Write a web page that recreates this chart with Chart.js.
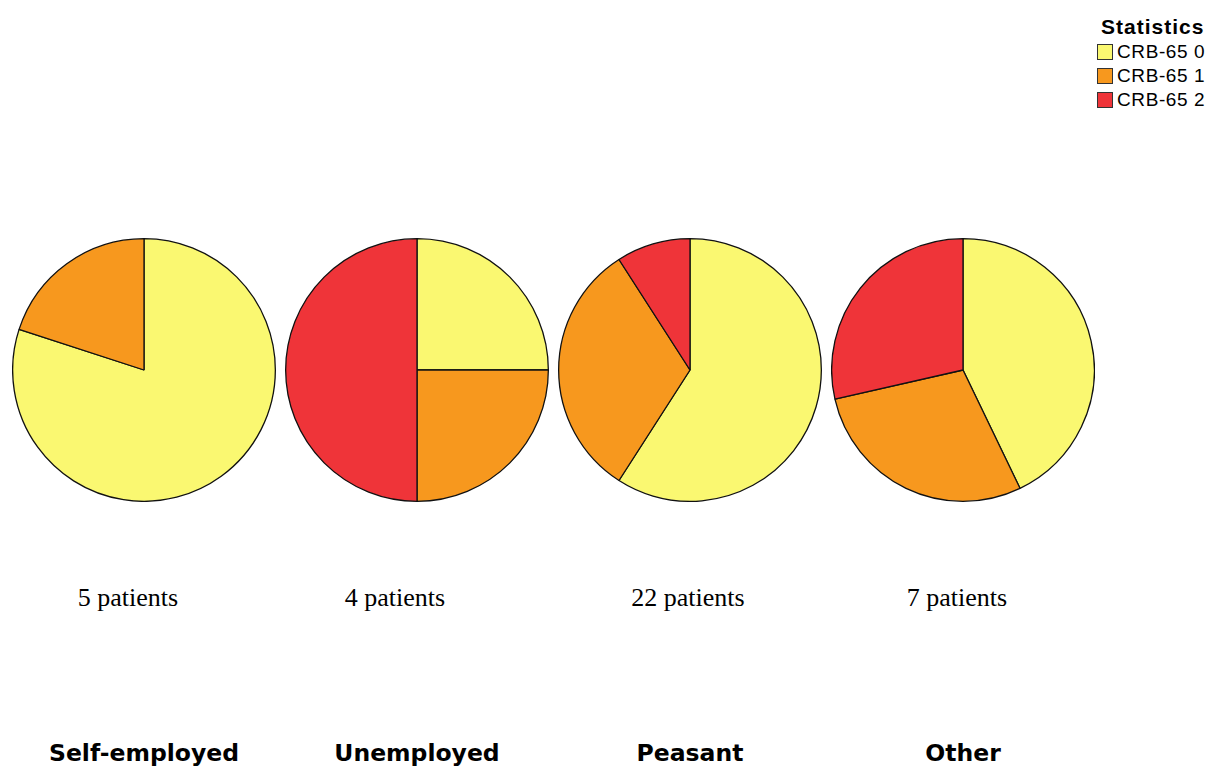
<!DOCTYPE html>
<html>
<head>
<meta charset="utf-8">
<script src="https://cdn.jsdelivr.net/npm/chart.js@4/dist/chart.umd.min.js"></script>
<style>
  html, body { margin: 0; padding: 0; background: #fff; width: 1211px; height: 767px; overflow: hidden; }
  body { position: relative; }
  canvas.pie { position: absolute; }
  .count { position: absolute; font-family: "Liberation Serif", "Times New Roman", serif; font-size: 26px; color: #000; white-space: nowrap; transform: translateX(-50%); }
  .group { position: absolute; font-family: "DejaVu Sans", Verdana, sans-serif; font-weight: bold; font-size: 23.5px; color: #000; white-space: nowrap; transform: translateX(-50%); }
  #legend { position: absolute; left: 1097px; top: 14px; font-family: "Liberation Sans", Arial, sans-serif; }
  #legend .title { font-weight: bold; font-size: 21px; letter-spacing: 1px; line-height: 26px; padding-left: 4px; }
  #legend .item { display: flex; align-items: center; height: 24px; font-size: 19px; letter-spacing: 0.6px; }
  #legend .box { width: 14px; height: 14px; border: 1px solid #333; margin-right: 4px; }
</style>
</head>
<body>
<div id="legend"><div class="title">Statistics</div></div>

<script>
// patients by occupation and CRB-65 score
const occupations = ['Self-employed', 'Unemployed', 'Peasant', 'Other'];
const levels = ['CRB-65 0', 'CRB-65 1', 'CRB-65 2'];
const crb0 = [4, 1, 13, 3];
const crb1 = [1, 1, 7, 2];
const crb2 = [0, 2, 2, 2];
const colors = ['#faf871', '#f7981e', '#ef3439'];

// layout
const pieCenters = [144, 417, 690, 963];
const pieCy = 370, pieSize = 264;
const countX = [128, 395, 688, 957];

// legend
const legend = document.getElementById('legend');
levels.forEach((lv, i) => {
  const row = document.createElement('div');
  row.className = 'item';
  row.innerHTML = `<span class="box" style="background:${colors[i]}"></span>${lv}`;
  legend.appendChild(row);
});

occupations.forEach((name, i) => {
  const values = [crb0[i], crb1[i], crb2[i]];
  const total = values.reduce((a, b) => a + b, 0);

  const cv = document.createElement('canvas');
  cv.className = 'pie';
  cv.width = pieSize; cv.height = pieSize;
  cv.style.left = (pieCenters[i] - pieSize / 2) + 'px';
  cv.style.top = (pieCy - pieSize / 2) + 'px';
  document.body.appendChild(cv);

  new Chart(cv.getContext('2d'), {
    type: 'pie',
    data: {
      labels: levels,
      datasets: [{ data: values, backgroundColor: colors, borderColor: '#111', borderWidth: 1.3 }],
    },
    options: {
      responsive: false,
      animation: false,
      events: [],
      plugins: { legend: { display: false }, tooltip: { enabled: false } },
    },
  });

  const cnt = document.createElement('div');
  cnt.className = 'count';
  cnt.textContent = `${total} patients`;
  cnt.style.left = countX[i] + 'px';
  cnt.style.top = '583px';
  document.body.appendChild(cnt);

  const lab = document.createElement('div');
  lab.className = 'group';
  lab.textContent = name;
  lab.style.left = pieCenters[i] + 'px';
  lab.style.top = '739px';
  document.body.appendChild(lab);
});
</script>
</body>
</html>
